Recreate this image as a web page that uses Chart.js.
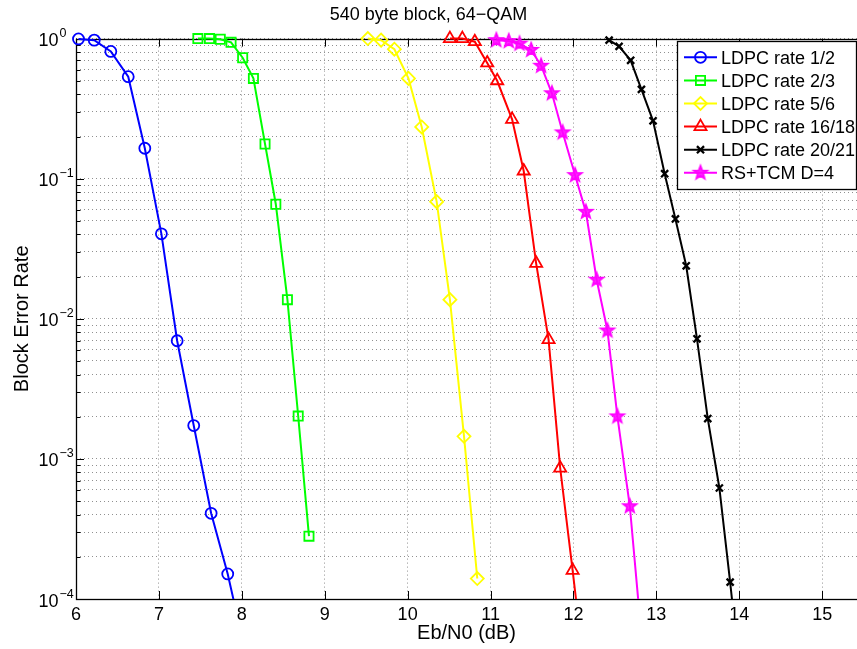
<!DOCTYPE html>
<html>
<head>
<meta charset="utf-8">
<script src="https://cdn.jsdelivr.net/npm/chart.js@4/dist/chart.umd.min.js"></script>
<style>
  html, body { margin:0; padding:0; background:#fff; }
  #wrap { width:857px; height:649px; }
</style>
</head>
<body>
<div id="wrap"><canvas id="berChart" width="857" height="649"></canvas></div>
<script>
var titleText = '540 byte block, 64\u2212QAM';
var xLabel = 'Eb/N0 (dB)';
var yLabel = 'Block Error Rate';
var xTicks = [6, 7, 8, 9, 10, 11, 12, 13, 14, 15];
var yExps = [0, -1, -2, -3, -4];

var names = ['LDPC rate 1/2', 'LDPC rate 2/3', 'LDPC rate 5/6', 'LDPC rate 16/18', 'LDPC rate 20/21', 'RS+TCM D=4'];
var colors = ['#0000ff', '#00ff00', '#ffff00', '#ff0000', '#000000', '#ff00ff'];

var rate12X = [6.03, 6.22, 6.42, 6.63, 6.83, 7.03, 7.22, 7.42, 7.63, 7.83, 8.03];
var rate12Y = [0.995, 0.975, 0.81, 0.535, 0.165, 0.0404, 0.00697, 0.00173, 0.000409, 0.000151, 0.000045];

var rate23X = [7.47, 7.61, 7.74, 7.87, 8.01, 8.14, 8.28, 8.41, 8.55, 8.68, 8.81];
var rate23Y = [1.0, 1.0, 0.99, 0.94, 0.73, 0.52, 0.177, 0.0657, 0.0137, 0.00202, 0.000281];

var rate56X = [9.52, 9.68, 9.84, 10.01, 10.17, 10.35, 10.51, 10.68, 10.84];
var rate56Y = [1.0, 0.975, 0.84, 0.52, 0.234, 0.0686, 0.0137, 0.00145, 0.00014];

var rate1618X = [10.51, 10.66, 10.81, 10.96, 11.08, 11.26, 11.40, 11.55, 11.70, 11.84, 11.99, 12.14];
var rate1618Y = [1.0, 1.0, 0.95, 0.67, 0.50, 0.265, 0.1135, 0.0249, 0.0071, 0.00086, 0.00016, 0.000028];

var rate2021X = [12.43, 12.55, 12.69, 12.82, 12.96, 13.10, 13.23, 13.36, 13.49, 13.62, 13.76, 13.89, 14.02];
var rate2021Y = [0.975, 0.88, 0.70, 0.434, 0.259, 0.1086, 0.0516, 0.0239, 0.0072, 0.00194, 0.00062, 0.000132, 0.000025];

var rstcmX = [11.07, 11.22, 11.35, 11.49, 11.61, 11.74, 11.87, 12.02, 12.15, 12.28, 12.41, 12.53, 12.68, 12.83];
var rstcmY = [0.975, 0.96, 0.92, 0.83, 0.64, 0.407, 0.214, 0.106, 0.058, 0.019, 0.00825, 0.00201, 0.000459, 0.000047];

var FONT = "'Liberation Sans', Arial, Helvetica, sans-serif";
Chart.defaults.font.family = FONT;
Chart.defaults.color = '#000';

function pts(xs, ys) {
  var out = [];
  for (var i = 0; i < xs.length; i++) out.push({ x: xs[i], y: ys[i] });
  return out;
}

// pentagram marker (MATLAB 'p'), thick outline so it reads almost solid
function makeStar(color, outer) {
  var c = document.createElement('canvas');
  c.width = 22; c.height = 22;
  var g = c.getContext('2d');
  g.beginPath();
  for (var k = 0; k < 10; k++) {
    var r = k % 2 === 0 ? outer : outer * 0.42;
    var a = -Math.PI / 2 + k * Math.PI / 5;
    g.lineTo(11 + r * Math.cos(a), 11 + r * Math.sin(a));
  }
  g.closePath();
  g.fillStyle = 'rgba(255,0,255,0.85)';
  g.fill();
  g.strokeStyle = color; g.lineWidth = 1.8; g.lineJoin = 'miter';
  g.stroke();
  return c;
}
var starImg = makeStar('#ff00ff', 7);

var styles = [
  { pointStyle: 'circle', radius: 5.5, bw: 1.8 },
  { pointStyle: 'rect', radius: 6.5, bw: 1.8 },
  { pointStyle: 'rectRot', radius: 6.5, bw: 1.8 },
  { pointStyle: 'triangle', radius: 7, bw: 1.8 },
  { pointStyle: 'crossRot', radius: 5, bw: 2.3 },
  { pointStyle: starImg, radius: 7, bw: 1.8 }
];

var seriesX = [rate12X, rate23X, rate56X, rate1618X, rate2021X, rstcmX];
var seriesY = [rate12Y, rate23Y, rate56Y, rate1618Y, rate2021Y, rstcmY];

var datasets = [];
for (var s = 0; s < names.length; s++) {
  datasets.push({
    label: names[s],
    data: pts(seriesX[s], seriesY[s]),
    borderColor: colors[s],
    backgroundColor: 'rgba(0,0,0,0)',
    borderWidth: 2,
    tension: 0,
    pointStyle: styles[s].pointStyle,
    pointRadius: styles[s].radius,
    pointBorderColor: colors[s],
    pointBackgroundColor: 'rgba(0,0,0,0)',
    pointBorderWidth: styles[s].bw,
    clip: { left: 10, top: 12, right: 10, bottom: 0 }
  });
}

function isMajor(v) {
  var l = Math.log10(v);
  return Math.abs(l - Math.round(l)) < 1e-9;
}

var frame = {
  id: 'frame',
  beforeDatasetsDraw: function(chart) {
    var ctx = chart.ctx, a = chart.chartArea;
    var xs = chart.scales.x, ys = chart.scales.y;
    ctx.save();
    ctx.strokeStyle = '#000';
    ctx.lineWidth = 1;
    ctx.beginPath();
    for (var i = 0; i < xTicks.length; i++) {
      var px = Math.round(xs.getPixelForValue(xTicks[i])) + 0.5;
      ctx.moveTo(px, a.bottom); ctx.lineTo(px, a.bottom - 8);
      ctx.moveTo(px, a.top); ctx.lineTo(px, a.top + 8);
    }
    for (var j = 0; j < ys.ticks.length; j++) {
      var v = ys.ticks[j].value;
      var py = Math.round(ys.getPixelForValue(v)) + 0.5;
      ctx.moveTo(a.left, py); ctx.lineTo(a.left + (isMajor(v) ? 8 : 4.5), py);
    }
    ctx.stroke();
    ctx.lineWidth = 1.3;
    ctx.strokeRect(Math.round(a.left) + 0.5, Math.round(a.top) + 0.5, a.right - a.left + 5, Math.round(a.bottom - a.top));
    ctx.restore();
  },
  afterDraw: function(chart) {
    var ctx = chart.ctx;
    var ys = chart.scales.y;
    ctx.save();
    ctx.fillStyle = '#000';
    // y tick labels 10^n
    for (var i = 0; i < yExps.length; i++) {
      var py = ys.getPixelForValue(Math.pow(10, yExps[i]));
      ctx.font = '18px ' + FONT;
      ctx.textAlign = 'right';
      ctx.textBaseline = 'alphabetic';
      ctx.fillText('10', 58.5, py + 7.5);
      ctx.font = '12.5px ' + FONT;
      ctx.textAlign = 'left';
      ctx.fillText(yExps[i] < 0 ? '\u2212' + (-yExps[i]) : String(yExps[i]), 59.5, py - 1.5);
    }
    // legend
    var lx = 677.5, ly = 41.5, lw = 179, lh = 148;
    ctx.fillStyle = '#fff';
    ctx.fillRect(lx, ly, lw, lh);
    ctx.strokeStyle = '#000';
    ctx.lineWidth = 1.3;
    ctx.strokeRect(lx, ly, lw, lh);
    for (var k = 0; k < names.length; k++) {
      var ry = 57.3 + 23.1 * k;
      ctx.strokeStyle = colors[k];
      ctx.lineWidth = 2;
      ctx.beginPath();
      ctx.moveTo(684, ry); ctx.lineTo(717, ry);
      ctx.stroke();
      ctx.fillStyle = 'rgba(0,0,0,0)';
      ctx.lineWidth = styles[k].bw;
      Chart.helpers.drawPoint(ctx, {
        pointStyle: styles[k].pointStyle,
        radius: styles[k].radius,
        rotation: 0,
        borderWidth: styles[k].bw
      }, 700.5, ry);
      ctx.fillStyle = '#000';
      ctx.font = '18px ' + FONT;
      ctx.textAlign = 'left';
      ctx.textBaseline = 'alphabetic';
      ctx.fillText(names[k], 721, ry + 6.5);
    }
    ctx.restore();
  }
};

new Chart(document.getElementById('berChart').getContext('2d'), {
  type: 'line',
  data: { datasets: datasets },
  options: {
    responsive: false,
    animation: false,
    devicePixelRatio: 1,
    layout: { padding: 0, autoPadding: false },
    plugins: {
      legend: { display: false },
      tooltip: { enabled: false },
      title: {
        display: true,
        text: titleText,
        color: '#000',
        font: { size: 18, weight: 'normal' },
        padding: { top: 4, bottom: 13 }
      }
    },
    scales: {
      x: {
        type: 'linear',
        min: 6,
        max: 15.42,
        afterBuildTicks: function(scale) {
          scale.ticks = xTicks.map(function(v) { return { value: v }; });
        },
        afterFit: function(scale) {
          scale.height = 50;
          scale.paddingLeft = 0; scale.paddingRight = 0;
        },
        ticks: { color: '#000', font: { size: 18 }, padding: 5, maxRotation: 0, autoSkip: false },
        grid: { color: '#909090', lineWidth: 1, drawTicks: false },
        border: { display: false, dash: [1, 3] },
        title: { display: true, text: xLabel, color: '#000', font: { size: 20 }, padding: { top: 0, bottom: 4 } }
      },
      y: {
        type: 'logarithmic',
        min: 1e-4,
        max: 1,
        afterBuildTicks: function(scale) {
          var t = [];
          for (var e = -4; e <= 0; e++) {
            for (var m = 1; m <= 9; m++) {
              var v = m * Math.pow(10, e);
              if (v > 1.0000001) break;
              t.push({ value: v });
            }
          }
          scale.ticks = t;
        },
        afterFit: function(scale) {
          scale.width = 76;
          scale.paddingTop = 0; scale.paddingBottom = 0;
        },
        ticks: { display: false },
        grid: { color: '#909090', lineWidth: 1, drawTicks: false },
        border: { display: false, dash: [1, 3] },
        title: { display: true, text: yLabel, color: '#000', font: { size: 20 }, padding: { top: 10, bottom: 0 } }
      }
    }
  },
  plugins: [frame]
});
</script>
</body>
</html>
